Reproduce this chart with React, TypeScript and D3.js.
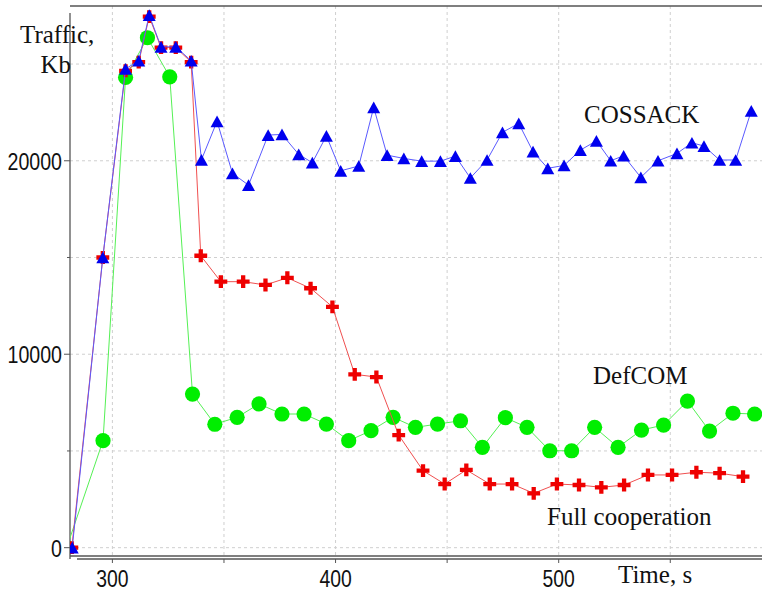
import React from "react";
import * as d3 from "d3";

// ---- Data (time in s, traffic in Kb) ----
const cossackT = [282, 295.7, 305.9, 311.8, 316.5, 321.8, 328.4, 335.3, 339.9, 346.9, 353.8, 361.0, 369.8, 376.0, 383.5, 389.6, 395.9, 402.3, 410.4, 417.1, 423.1, 430.6, 438.6, 447.0, 453.7, 460.4, 467.9, 474.8, 482.1, 488.5, 495.1, 502.4, 509.7, 516.9, 523.3, 529.1, 536.8, 544.5, 553.0, 559.7, 565.1, 572.1, 579.3, 586.3];
const cossackV = [0, 15000, 24750, 25170, 27530, 25890, 25890, 25170, 20050, 22040, 19350, 18740, 21330, 21360, 20330, 19900, 21290, 19480, 19730, 22760, 20290, 20120, 19980, 19980, 20240, 19110, 20040, 21470, 21930, 20470, 19610, 19760, 20550, 21030, 20000, 20260, 19140, 20000, 20380, 20930, 20760, 20040, 20040, 22580];

const fullT = [281.8, 295.7, 305.9, 311.8, 316.5, 321.8, 328.4, 335.3, 339.6, 348.6, 358.6, 368.6, 378.4, 388.8, 398.6, 408.6, 418.3, 428.3, 439.2, 448.9, 458.6, 469.1, 479.1, 488.8, 499.2, 509.1, 519.1, 529.3, 540.0, 550.8, 561.7, 572.1, 582.6];
const fullV = [0, 15000, 24650, 25100, 27450, 25850, 25850, 25100, 15090, 13750, 13750, 13580, 13950, 13410, 12450, 8960, 8820, 5820, 3980, 3290, 4020, 3290, 3290, 2810, 3290, 3240, 3120, 3240, 3760, 3760, 3900, 3850, 3670];

const defcomT = [279.5, 295.8, 305.9, 315.7, 325.7, 335.9, 345.9, 355.9, 365.7, 376.0, 385.9, 395.9, 405.9, 415.9, 425.8, 435.8, 445.7, 456.0, 465.8, 476.1, 485.8, 496.0, 505.8, 516.1, 526.6, 537.1, 547.0, 557.7, 567.6, 578.1, 587.8];
const defcomV = [0, 5530, 24310, 26360, 24340, 7940, 6380, 6740, 7430, 6910, 6910, 6390, 5530, 6050, 6740, 6220, 6390, 6560, 5190, 6720, 6220, 5010, 5010, 6220, 5190, 6080, 6340, 7580, 6030, 6950, 6910];

const xTicks = [300, 350, 400, 450, 500, 550];
const xTickLabels = ["300", "", "400", "", "500", ""];
const yTicks = [0, 5000, 10000, 15000, 20000, 25000];
const yTickLabels = ["0", "", "10000", "", "20000", ""];

const seriesLabels = ["COSSACK", "DefCOM", "Full cooperation"];

type P = { t: number; v: number };
const zip = (t: number[], v: number[]): P[] => t.map((x, i) => ({ t: x, v: v[i] }));

export default function App() {
  const W = 762, H = 592;
  const left = 70, top = 6, right = 764, bottom = 556;
  const x = d3.scaleLinear().domain([281, 592]).range([left, right]);
  const y = d3.scaleLinear().domain([-430, 28000]).range([bottom, top]);

  const line = d3.line<P>().x(d => x(d.t)).y(d => y(d.v));

  const cossack = zip(cossackT, cossackV);
  const full = zip(fullT, fullV);
  const defcom = zip(defcomT, defcomV);

  const triangle = {
    draw(ctx: any, size: number) {
      const w = Math.sqrt(size);
      const h = w * 0.9;
      ctx.moveTo(0, -h / 2);
      ctx.lineTo(w / 2, h / 2);
      ctx.lineTo(-w / 2, h / 2);
      ctx.closePath();
    },
  };
  const triPath = d3.symbol().type(triangle as any).size(169)() as string;
  const crossPath = d3.symbol().type(d3.symbolCross).size(92)() as string;

  const numFont = "'Liberation Sans', Arial, sans-serif";
  const serif = "'Liberation Serif', 'Times New Roman', serif";

  return (
    <svg width={W} height={H} style={{ position: "absolute", left: 0, top: 0, background: "#fff" }}>
      <defs>
        <clipPath id="plotClip">
          <rect x={left} y={top} width={right - left} height={bottom - top} />
        </clipPath>
      </defs>
      {/* grid */}
      <g stroke="#cfcfcf" strokeWidth={1} strokeDasharray="3,3">
        {xTicks.map(t => (
          <line key={"gx" + t} x1={x(t)} x2={x(t)} y1={top} y2={bottom} />
        ))}
        {yTicks.map(v => (
          <line key={"gy" + v} x1={left} x2={right} y1={y(v)} y2={y(v)} />
        ))}
      </g>
      {/* frame */}
      <line x1={left} x2={right} y1={top} y2={top} stroke="#555" strokeWidth={1.3} />
      <line x1={left} x2={right} y1={bottom} y2={bottom} stroke="#555" strokeWidth={1.3} />
      <line x1={left} x2={left} y1={13} y2={559} stroke="#555" strokeWidth={1.3} />
      <line x1={77} x2={right} y1={559} y2={559} stroke="#555" strokeWidth={1.3} />
      {/* y ticks */}
      {yTicks.map((v, i) => (
        <g key={"yt" + v}>
          <line x1={yTickLabels[i] ? left - 6 : left - 3} x2={left} y1={y(v)} y2={y(v)} stroke="#555" strokeWidth={1} />
          {yTickLabels[i] && (
            <text
              transform={`translate(${left - 8},${y(v) + 9}) scale(0.8,1)`}
              textAnchor="end"
              fontFamily={numFont}
              fontSize={24.5}
              fill="#111"
            >
              {yTickLabels[i]}
            </text>
          )}
        </g>
      ))}
      {/* x ticks */}
      {xTicks.map((t, i) => (
        <g key={"xt" + t}>
          <line x1={x(t)} x2={x(t)} y1={559} y2={563} stroke="#555" strokeWidth={1} />
          {xTickLabels[i] && (
            <text
              transform={`translate(${x(t)},${587}) scale(0.88,1.12)`}
              textAnchor="middle"
              fontFamily={numFont}
              fontSize={22}
              fill="#111"
            >
              {xTickLabels[i]}
            </text>
          )}
        </g>
      ))}

      <g clipPath="url(#plotClip)">
        {/* DefCOM */}
        <path d={line(defcom) as string} fill="none" stroke="#55f055" strokeWidth={1} />
        {defcom.map((d, i) => (
          <circle key={"g" + i} cx={x(d.t)} cy={y(d.v)} r={7.6} fill="#00ee00" />
        ))}
        {/* Full cooperation */}
        <path d={line(full) as string} fill="none" stroke="#f05050" strokeWidth={1} />
        {full.map((d, i) => (
          <path key={"r" + i} d={crossPath} transform={`translate(${x(d.t)},${y(d.v)})`} fill="#ee0000" />
        ))}
        {/* COSSACK */}
        <path d={line(cossack) as string} fill="none" stroke="#5a5aff" strokeWidth={1} />
        {cossack.map((d, i) => (
          <path key={"b" + i} d={triPath} transform={`translate(${x(d.t)},${y(d.v)})`} fill="#0000ee" />
        ))}
      </g>

      {/* labels */}
      <g fontFamily={serif} fontSize={25} fill="#111">
        <text x={20} y={43}>Traffic,</text>
        <text x={71} y={72.5} textAnchor="end">Kb</text>
        <text x={584} y={123.3}>{seriesLabels[0]}</text>
        <text x={593} y={384}>{seriesLabels[1]}</text>
        <text x={547} y={525}>{seriesLabels[2]}</text>
        <text x={618} y={583}>Time, s</text>
      </g>
    </svg>
  );
}
